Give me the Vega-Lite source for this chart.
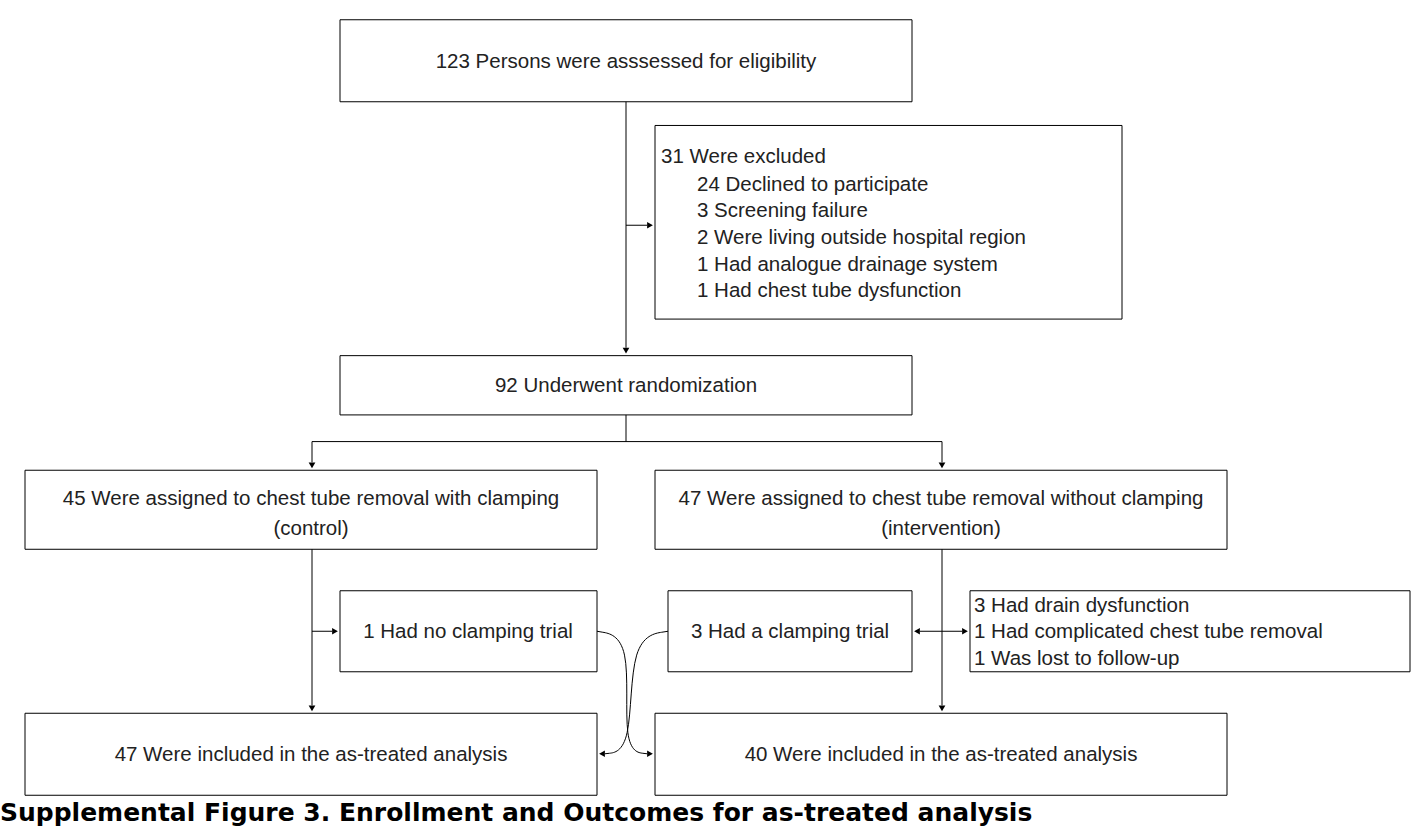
{
  "$schema": "https://vega.github.io/schema/vega-lite/v6.json",
  "width": 1428,
  "height": 826,
  "autosize": {"type": "fit", "contains": "padding"},
  "padding": 0,
  "background": "white",
  "config": {"view": {"stroke": null}},
  "datasets": {
    "boxes": [
      {"x": 340, "x2": 912, "y": 20, "y2": 103},
      {"x": 655, "x2": 1122, "y": 127, "y2": 323},
      {"x": 340, "x2": 912, "y": 360, "y2": 420},
      {"x": 25, "x2": 597, "y": 476, "y2": 556},
      {"x": 655, "x2": 1227, "y": 476, "y2": 556},
      {"x": 340, "x2": 597, "y": 598, "y2": 680},
      {"x": 668, "x2": 912, "y": 598, "y2": 680},
      {"x": 970, "x2": 1410, "y": 598, "y2": 680},
      {"x": 25, "x2": 597, "y": 722, "y2": 805},
      {"x": 655, "x2": 1227, "y": 722, "y2": 805}
    ],
    "links": [
      {"x": 626, "x2": 626, "y": 103, "y2": 352},
      {"x": 626, "x2": 647, "y": 228, "y2": 228},
      {"x": 626, "x2": 626, "y": 420, "y2": 447},
      {"x": 312, "x2": 942, "y": 447, "y2": 447},
      {"x": 312, "x2": 312, "y": 447, "y2": 468},
      {"x": 942, "x2": 942, "y": 447, "y2": 468},
      {"x": 312, "x2": 312, "y": 556, "y2": 714},
      {"x": 312, "x2": 332, "y": 639, "y2": 639},
      {"x": 942, "x2": 942, "y": 556, "y2": 714},
      {"x": 920, "x2": 962, "y": 639, "y2": 639}
    ],
    "curves": [
      {"c": "a", "o": 1, "x": 597, "y": 639},
      {"c": "a", "o": 2, "x": 632, "y": 645},
      {"c": "a", "o": 3, "x": 622, "y": 760},
      {"c": "a", "o": 4, "x": 647, "y": 763},
      {"c": "b", "o": 1, "x": 668, "y": 639},
      {"c": "b", "o": 2, "x": 630, "y": 645},
      {"c": "b", "o": 3, "x": 632, "y": 760},
      {"c": "b", "o": 4, "x": 605, "y": 763}
    ],
    "heads": [
      {"x": 626, "y": 355, "dir": "down"},
      {"x": 650, "y": 228, "dir": "right"},
      {"x": 312, "y": 471, "dir": "down"},
      {"x": 942, "y": 471, "dir": "down"},
      {"x": 312, "y": 717, "dir": "down"},
      {"x": 335, "y": 639, "dir": "right"},
      {"x": 942, "y": 717, "dir": "down"},
      {"x": 917, "y": 639, "dir": "left"},
      {"x": 965, "y": 639, "dir": "right"},
      {"x": 650, "y": 763, "dir": "right"},
      {"x": 602, "y": 763, "dir": "left"}
    ],
    "labels": [
      {"x": 626, "y": 63, "al": "center", "t": "123 Persons were asssessed for eligibility"},
      {"x": 661, "y": 159, "al": "left", "t": "31 Were excluded"},
      {"x": 697, "y": 187, "al": "left", "t": "24 Declined to participate"},
      {"x": 697, "y": 214, "al": "left", "t": "3 Screening failure"},
      {"x": 697, "y": 241, "al": "left", "t": "2 Were living outside hospital region"},
      {"x": 697, "y": 268, "al": "left", "t": "1 Had analogue drainage system"},
      {"x": 697, "y": 295, "al": "left", "t": "1 Had chest tube dysfunction"},
      {"x": 626, "y": 391, "al": "center", "t": "92 Underwent randomization"},
      {"x": 311, "y": 505, "al": "center", "t": "45 Were assigned to chest tube removal with clamping"},
      {"x": 311, "y": 535, "al": "center", "t": "(control)"},
      {"x": 941, "y": 505, "al": "center", "t": "47 Were assigned to chest tube removal without clamping"},
      {"x": 941, "y": 535, "al": "center", "t": "(intervention)"},
      {"x": 468, "y": 640, "al": "center", "t": "1 Had no clamping trial"},
      {"x": 790, "y": 640, "al": "center", "t": "3 Had a clamping trial"},
      {"x": 974, "y": 613, "al": "left", "t": "3 Had drain dysfunction"},
      {"x": 974, "y": 640, "al": "left", "t": "1 Had complicated chest tube removal"},
      {"x": 974, "y": 667, "al": "left", "t": "1 Was lost to follow-up"},
      {"x": 311, "y": 764, "al": "center", "t": "47 Were included in the as-treated analysis"},
      {"x": 941, "y": 764, "al": "center", "t": "40 Were included in the as-treated analysis"}
    ],
    "caption": [
      {"x": 0, "y": 811, "t": "Supplemental Figure 3. Enrollment and Outcomes for as-treated analysis"}
    ]
  },
  "encoding": {
    "x": {"field": "x", "type": "quantitative", "scale": {"domain": [0, 1428], "nice": false, "zero": false}, "axis": null},
    "y": {"field": "y", "type": "quantitative", "scale": {"domain": [0, 826], "nice": false, "zero": false, "reverse": true}, "axis": null}
  },
  "layer": [
    {
      "data": {"name": "boxes"},
      "mark": {"type": "rect", "fill": "white", "stroke": "black", "strokeWidth": 1},
      "encoding": {"x2": {"field": "x2"}, "y2": {"field": "y2"}}
    },
    {
      "data": {"name": "links"},
      "mark": {"type": "rule", "color": "black", "strokeWidth": 1},
      "encoding": {"x2": {"field": "x2"}, "y2": {"field": "y2"}}
    },
    {
      "data": {"name": "curves"},
      "mark": {"type": "line", "color": "black", "strokeWidth": 1, "interpolate": "basis"},
      "encoding": {"detail": {"field": "c"}, "order": {"field": "o"}}
    },
    {
      "data": {"name": "heads"},
      "mark": {"type": "point", "filled": true, "color": "black", "opacity": 1, "size": 45},
      "encoding": {
        "shape": {"field": "dir", "type": "nominal", "legend": null,
          "scale": {"domain": ["down", "right", "left"], "range": ["triangle-down", "triangle-right", "triangle-left"]}}
      }
    },
    {
      "data": {"name": "labels"},
      "transform": [{"filter": "datum.al == 'center'"}],
      "mark": {"type": "text", "align": "center", "baseline": "middle", "font": "Liberation Sans", "fontSize": 20.5, "color": "#222"},
      "encoding": {"text": {"field": "t"}}
    },
    {
      "data": {"name": "labels"},
      "transform": [{"filter": "datum.al == 'left'"}],
      "mark": {"type": "text", "align": "left", "baseline": "middle", "font": "Liberation Sans", "fontSize": 20.5, "color": "#222"},
      "encoding": {"text": {"field": "t"}}
    },
    {
      "data": {"name": "caption"},
      "mark": {"type": "text", "align": "left", "baseline": "top", "font": "DejaVu Sans", "fontWeight": "bold", "fontSize": 25, "color": "black"},
      "encoding": {"text": {"field": "t"}}
    }
  ]
}
